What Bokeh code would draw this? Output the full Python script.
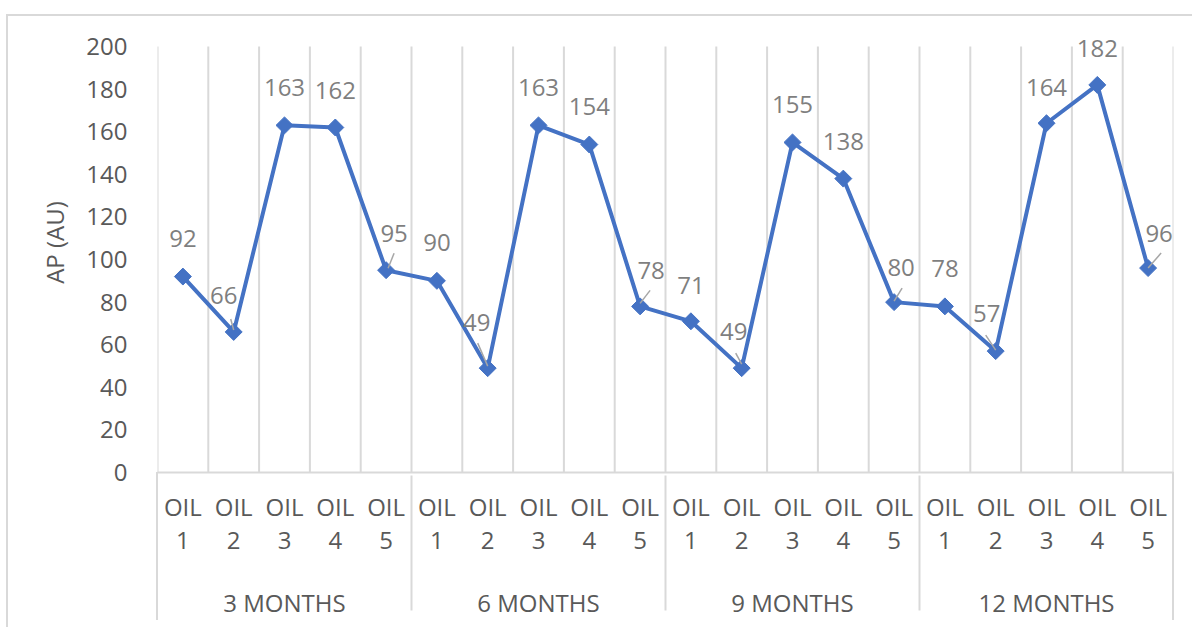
import numpy as np
from bokeh.plotting import figure
from bokeh.models import FactorRange, Range1d, SingleIntervalTicker, ColumnDataSource
from bokeh.core.properties import value
from bokeh.embed import file_html
from bokeh.resources import INLINE

# ---- data ----
groups = ["3 MONTHS", "6 MONTHS", "9 MONTHS", "12 MONTHS"]
oils = ["OIL 1", "OIL 2", "OIL 3", "OIL 4", "OIL 5"]
ap_values = [92, 66, 163, 162, 95,
             90, 49, 163, 154, 78,
             71, 49, 155, 138, 80,
             78, 57, 164, 182, 96]
y_label = "AP (AU)"
y_ticks_max = 200

# ---- label placement (style: pixel offsets of data labels) ----
label_dx = [0, -10, 0, 0, 8, 0, -11, 0, 0, 11, 0, -8, 0, 0, 7, 0, -9, 0, 0, 11]
label_dy = [-38, -36, -38, -37, -37, -38, -46, -38, -38, -36, -36, -37, -38, -37, -35, -38, -38, -36, -36, -35]
# leader lines: index -> (dx0, dy0, dx1, dy1) in px from the point
leaders = {1: (0, -2, -3, -13), 4: (2, -2, 8, -17), 6: (0, -2, -10, -25),
           9: (0, -3, 10, -16), 11: (0, -4, -6, -15), 14: (0, -1, 8, -14),
           16: (0, -1, -10, -16), 19: (0, 0, 13, -15)}

FONT = "Open Sans"
GRID = "#d9d9d9"
W, H = 1192, 627
ML, MR, MT, MB = 157, 19, 12, 155
Y_TOP = 216  # headroom above 200 so the top data label is not clipped

# group names get a leading blank line so they sit lower, as in the original
factors = [("\n" + g, o.replace(" ", "\n")) for g in groups for o in oils]
n = len(factors)

x_range = FactorRange(*factors, factor_padding=0, group_padding=0,
                      subgroup_padding=0, range_padding=0)

fx0, fx1 = ML, W - MR
fy1 = H - MB
css_bg = ", ".join([
    f"linear-gradient({GRID},{GRID}) 6px 14px / 100% 2px no-repeat",
    f"linear-gradient({GRID},{GRID}) 6px 14px / 2px 100% no-repeat",
    f"linear-gradient({GRID},{GRID}) {fx0 - 1}px {fy1}px / 2px {H - fy1 - 7}px no-repeat",
    f"linear-gradient({GRID},{GRID}) {fx1 - 1}px {fy1}px / 2px {H - fy1 - 7}px no-repeat",
    "white",
])

p = figure(width=W, height=H, x_range=x_range, y_range=Range1d(0, Y_TOP),
           output_backend="svg", toolbar_location=None,
           min_border_left=ML, min_border_right=MR, min_border_top=MT,
           min_border_bottom=MB, outline_line_color=None,
           background_fill_color=None, border_fill_color=None,
           styles={"background": css_bg})

p.xgrid.visible = False
p.ygrid.visible = False

# vertical gridlines at category boundaries (0 .. 200)
gx0 = [(g, o, -0.5) for g, o in factors] + [(factors[-1][0], factors[-1][1], 0.5)]
p.segment(x0=gx0, y0=[0] * len(gx0), x1=gx0, y1=[y_ticks_max] * len(gx0),
          line_color=GRID, line_width=2)

# y axis
p.yaxis.ticker = SingleIntervalTicker(interval=20)
p.yaxis.axis_line_color = None
p.yaxis.major_tick_line_color = None
p.yaxis.minor_tick_line_color = None
p.yaxis.major_label_standoff = 24
p.yaxis.major_label_text_font = FONT
p.yaxis.major_label_text_font_size = "24px"
p.yaxis.major_label_text_color = "#595959"
p.yaxis.axis_label = y_label
p.yaxis.axis_label_text_font = FONT
p.yaxis.axis_label_text_font_size = "24px"
p.yaxis.axis_label_text_font_style = "normal"
p.yaxis.axis_label_text_color = "#595959"
p.yaxis.axis_label_standoff = 12

# x axis
xa = p.xaxis[0]
xa.axis_line_color = GRID
xa.axis_line_width = 2
xa.major_tick_line_color = None
xa.minor_tick_line_color = None
xa.major_label_orientation = "horizontal"
xa.major_label_standoff = 11
xa.major_label_text_font = FONT
xa.major_label_text_font_size = "24px"
xa.major_label_text_color = "#595959"
xa.major_label_text_line_height = 1.0
xa.group_text_font = FONT
xa.group_text_font_size = "24px"
xa.group_text_font_style = "normal"
xa.group_text_color = "#595959"
xa.group_text_line_height = 0.5
xa.separator_line_color = GRID
xa.separator_line_width = 2

src = ColumnDataSource(dict(x=factors, y=ap_values,
                            t=[str(v) for v in ap_values],
                            dx=label_dx, dy=label_dy))

p.line("x", "y", source=src, line_color="#4472C4", line_width=4,
       line_join="round")
p.scatter("x", "y", source=src, marker="square", angle=np.pi / 4, size=12,
          fill_color="#4472C4", line_color="#4472C4", line_width=1)

# leader lines
PX_X = (W - ML - MR) / n
PX_Y = (H - MT - MB) / Y_TOP
x0s, y0s, x1s, y1s = [], [], [], []
for i, (a, b, c, d) in leaders.items():
    g, o = factors[i]
    x0s.append((g, o, a / PX_X)); y0s.append(ap_values[i] - b / PX_Y)
    x1s.append((g, o, c / PX_X)); y1s.append(ap_values[i] - d / PX_Y)
p.segment(x0=x0s, y0=y0s, x1=x1s, y1=y1s, line_color="#a6a6a6", line_width=1.5)

p.text("x", "y", text="t", source=src, x_offset="dx", y_offset="dy",
       text_align="center", text_baseline="middle",
       text_font=value(FONT), text_font_size="24px", text_color="#7f7f7f")

open("out.html", "w").write(file_html(p, INLINE))
